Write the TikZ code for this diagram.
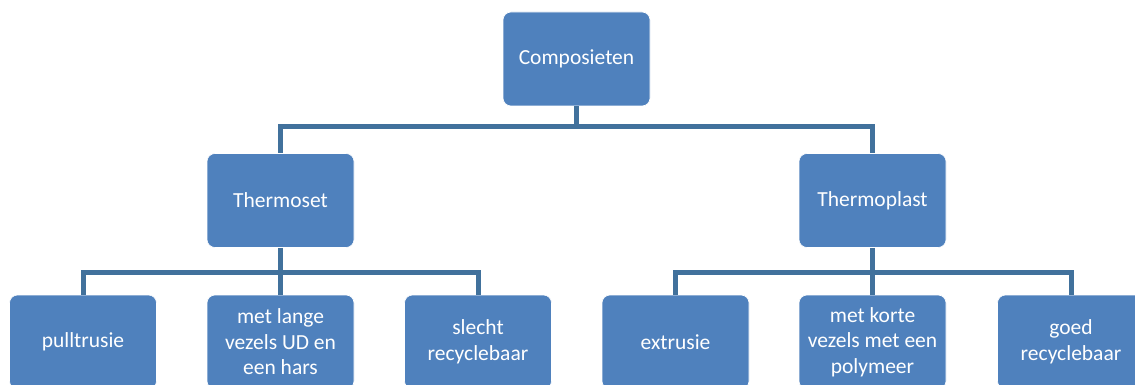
\documentclass[tikz,border=0pt]{standalone}
\usepackage{fontspec}
\setmainfont{Carlito}
\definecolor{boxblue}{HTML}{4F81BD}
\definecolor{linkblue}{HTML}{41719C}
\begin{document}
\begin{tikzpicture}[x=1pt,y=-1pt,
  box/.style={rectangle, rounded corners=8pt, fill=boxblue, draw=white, line width=0.6pt,
    minimum width=147pt, minimum height=94pt, align=center, text=white,
    font=\fontsize{21.5}{25.5}\selectfont, inner sep=2pt},
  link/.style={draw=linkblue, line width=5pt, line join=miter}]
\clip (0,0) rectangle (1135,385);
\fill[white] (0,0) rectangle (1135,385);
\node[box] (top) at (576.5,59) {Composieten};
\node[box] (ts) at (280.5,200.5) {Thermoset};
\node[box] (tp) at (872.5,200.5) {Thermoplast};
\node[box] (b1) at (83,342) {pulltrusie};
\node[box] (b2) at (280.5,342) {met lange\\vezels UD en\\een hars};
\node[box] (b3) at (478,342) {slecht\\recyclebaar};
\node[box] (b4) at (675.5,342) {extrusie};
\node[box] (b5) at (872.5,342) {met korte\\vezels met een\\polymeer};
\node[box] (b6) at (1071,342) {goed\\recyclebaar};
\coordinate (j0) at (576.5,127);
\coordinate (j1) at (280.5,272);
\coordinate (j2) at (872.5,272);
\draw[link] (top.south) -- (j0);
\draw[link] (j0) -| (ts.north);
\draw[link] (j0) -| (tp.north);
\draw[link] (ts.south) -- (j1);
\draw[link] (j1) -- (b2.north);
\draw[link] (j1) -| (b1.north);
\draw[link] (j1) -| (b3.north);
\draw[link] (tp.south) -- (j2);
\draw[link] (j2) -- (b5.north);
\draw[link] (j2) -| (b4.north);
\draw[link] (j2) -| (b6.north);
\end{tikzpicture}
\end{document}
